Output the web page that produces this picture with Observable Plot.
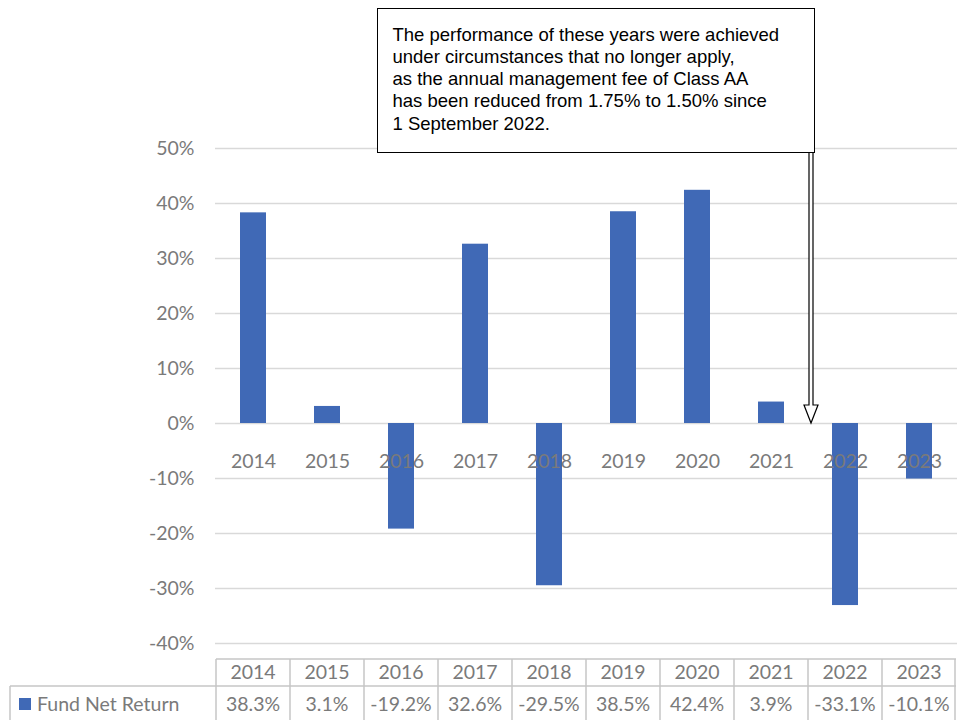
<!DOCTYPE html>
<html>
<head>
<meta charset="utf-8">
<script src="https://cdn.jsdelivr.net/npm/d3@7"></script>
<script src="https://cdn.jsdelivr.net/npm/@observablehq/plot@0.6"></script>
<style>
  html, body { margin: 0; padding: 0; background: #fff; }
  #chart svg { display: block; }
</style>
</head>
<body>
<div id="chart"></div>
<script>
const years = ["2014","2015","2016","2017","2018","2019","2020","2021","2022","2023"];
const returns = [0.383, 0.031, -0.192, 0.326, -0.295, 0.385, 0.424, 0.039, -0.331, -0.101];
const returnLabels = ["38.3%","3.1%","-19.2%","32.6%","-29.5%","38.5%","42.4%","3.9%","-33.1%","-10.1%"];
const yTicks = [-0.4, -0.3, -0.2, -0.1, 0, 0.1, 0.2, 0.3, 0.4, 0.5];
const seriesName = "Fund Net Return";
const noteLines = [
  "The performance of these years were achieved",
  "under circumstances that no longer apply,",
  "as the annual management fee of Class AA",
  "has been reduced from 1.75% to 1.50% since",
  "1 September 2022."
];
const noteYear = "2022";

const data = years.map((y, i) => ({year: y, value: returns[i], label: returnLabels[i]}));

const FONT = "Lato, 'Open Sans', sans-serif";
const GRAY = "#7a7a7a";
const GRID = "#d9d9d9";
const BLUE = "#4069b6";
const FS = 19.5;

const plot = Plot.plot({
  width: 957,
  height: 720,
  marginTop: 148,
  marginBottom: 77,
  marginLeft: 215,
  marginRight: 0,
  style: {fontFamily: FONT, background: "#fff"},
  x: {domain: years, paddingInner: 0.65, paddingOuter: 0.325, axis: null},
  y: {domain: [-0.4, 0.5], axis: null},
  marks: [
    Plot.ruleY(yTicks, {y: d => d, stroke: GRID, strokeWidth: 1.6}),
    Plot.barY(data, {x: "year", y: "value", fill: BLUE}),
    Plot.text(yTicks, {
      y: d => d, frameAnchor: "left", dx: -21, textAnchor: "end",
      text: d => Math.round(d * 100) + "%", fontSize: FS, fill: GRAY
    }),
    Plot.text(data, {
      x: "year", y: () => 0, dy: 38, text: "year", fontSize: FS, fill: GRAY
    })
  ]
});

document.getElementById("chart").appendChild(plot);

// Data table and callout using Plot's scales
const svg = d3.select(plot);
const xs = plot.scale("x");
const ys = plot.scale("y");
const step = xs.step;
const gap = step - xs.bandwidth;
const colLeft = y => xs.apply(y) - gap / 2;
const tableTop = ys.apply(-0.4) + 16;
const rowMid = tableTop + 27;
const tableBottom = 720;
const legendLeft = 10;
const plotLeft = colLeft(years[0]);
const plotRight = colLeft(years[years.length - 1]) + step;

const tg = svg.append("g").attr("stroke", "#c6c6c6").attr("stroke-width", 1.5).attr("fill", "none");
tg.append("line").attr("x1", plotLeft).attr("x2", plotRight).attr("y1", tableTop).attr("y2", tableTop);
tg.append("line").attr("x1", legendLeft).attr("x2", plotRight).attr("y1", rowMid).attr("y2", rowMid);
tg.append("line").attr("x1", legendLeft).attr("x2", legendLeft).attr("y1", rowMid).attr("y2", tableBottom);
years.forEach(y => {
  const xl = colLeft(y);
  tg.append("line").attr("x1", xl).attr("x2", xl).attr("y1", tableTop).attr("y2", tableBottom);
});
tg.append("line").attr("x1", plotRight - 1).attr("x2", plotRight - 1).attr("y1", tableTop).attr("y2", tableBottom);

const tt = svg.append("g").attr("font-family", FONT).attr("font-size", FS).attr("fill", GRAY).attr("text-anchor", "middle");
data.forEach(d => {
  const cx = xs.apply(d.year) + xs.bandwidth / 2;
  tt.append("text").attr("x", cx).attr("y", (tableTop + rowMid) / 2).attr("dy", "0.35em").text(d.year);
  tt.append("text").attr("x", cx).attr("y", (rowMid + tableBottom) / 2 + 1).attr("dy", "0.35em").text(d.label);
});
svg.append("rect").attr("x", 19).attr("y", (rowMid + tableBottom) / 2 - 5).attr("width", 12).attr("height", 12).attr("fill", BLUE);
svg.append("text").attr("x", 37).attr("y", (rowMid + tableBottom) / 2 + 1).attr("dy", "0.35em")
  .attr("text-anchor", "start")
  .attr("font-family", FONT).attr("font-size", FS).attr("fill", GRAY).text(seriesName);

// Callout box with arrow
const ax = colLeft(noteYear) + 3;
const boxX = 377.5, boxY = 8.5, boxW = 437, boxH = 144;
const ag = svg.append("g");
ag.append("path")
  .attr("d", `M${ax - 2},${boxY + boxH} V${ys.apply(0) - 18} H${ax - 7} L${ax},${ys.apply(0)} L${ax + 7},${ys.apply(0) - 18} H${ax + 2} V${boxY + boxH}`)
  .attr("fill", "#fff").attr("stroke", "#000").attr("stroke-width", 1.2);
ag.append("rect").attr("x", boxX).attr("y", boxY).attr("width", boxW).attr("height", boxH)
  .attr("fill", "#fff").attr("stroke", "#000").attr("stroke-width", 1);
const nt = ag.append("text").attr("font-family", "'Liberation Sans', Arial, sans-serif")
  .attr("font-size", 18.5).attr("fill", "#000").attr("text-anchor", "start");
noteLines.forEach((l, i) => {
  nt.append("tspan").attr("x", boxX + 15).attr("y", 40.5 + i * 22.3).text(l);
});
</script>
</body>
</html>
